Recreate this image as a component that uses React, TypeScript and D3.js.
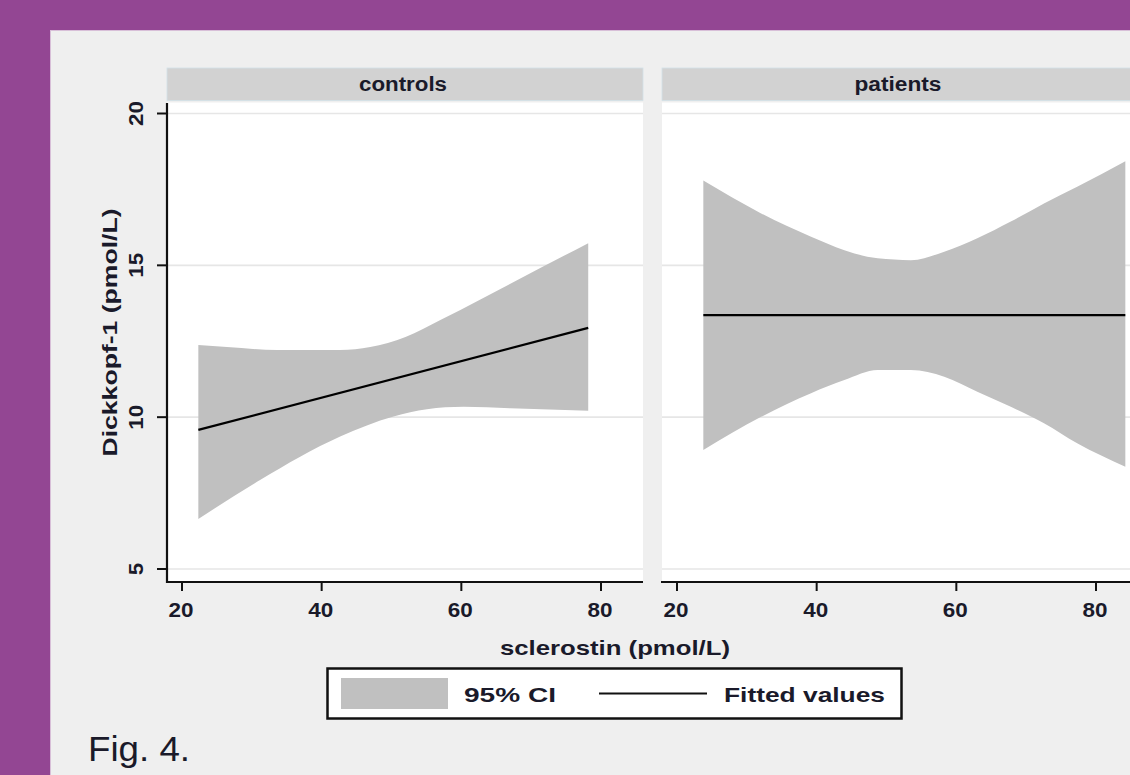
import React from 'react';
import * as d3 from 'd3';

const panels = ["controls", "patients"];
const xTicks = [20, 40, 60, 80];
const yTicks = [5, 10, 15, 20];
const legendLabels = ["95% CI", "Fitted values"];

// controls: CI band edges and fitted line
const controlsUpperX = [22.34, 26.45, 33.6, 42.65, 46.95, 52.0, 57.0, 59.86, 65.6, 71.3, 78.17];
const controlsUpper = [12.38, 12.31, 12.21, 12.21, 12.31, 12.64, 13.2, 13.53, 14.22, 14.91, 15.73];
const controlsLowerX = [22.34, 31.18, 36.92, 42.65, 50.3, 55.08, 60.33, 67.03, 78.17];
const controlsLower = [6.65, 7.93, 8.7, 9.36, 10.02, 10.26, 10.34, 10.29, 10.21];
const controlsFitX = [22.34, 78.17];
const controlsFit = [9.58, 12.94];

// patients
const patientsUpperX = [23.77, 32.05, 39.2, 43.97, 48.74, 53.5, 58.27, 63.0, 67.8, 72.55, 77.3, 84.2];
const patientsUpper = [17.79, 16.71, 15.94, 15.5, 15.23, 15.17, 15.45, 15.89, 16.44, 17.04, 17.59, 18.43];
const patientsLowerX = [23.77, 32.05, 39.2, 43.97, 48.74, 53.5, 58.27, 63.0, 67.8, 72.55, 77.3, 84.2];
const patientsLower = [8.92, 10.01, 10.79, 11.22, 11.55, 11.55, 11.33, 10.84, 10.34, 9.8, 9.14, 8.37];
const patientsFitX = [23.77, 84.2];
const patientsFit = [13.36, 13.36];

const series = [
  { upX: controlsUpperX, up: controlsUpper, loX: controlsLowerX, lo: controlsLower, fitX: controlsFitX, fit: controlsFit },
  { upX: patientsUpperX, up: patientsUpper, loX: patientsLowerX, lo: patientsLower, fitX: patientsFitX, fit: patientsFit },
];

const FONT = "'Liberation Sans', Arial, sans-serif";
const INK = "#1a1a2a";

const App = () => {
  const panelLeft = [167, 662];
  const panelW = 476;
  const plotTop = 102.5;
  const axisY = 582;

  const y = d3.scaleLinear().domain([5, 20]).range([569, 113.5]);
  const smooth = d3.line<[number, number]>().curve(d3.curveMonotoneX);
  const straight = d3.line<[number, number]>();

  return (
    <svg width={1130} height={775} style={{ position: 'absolute', left: 0, top: 0 }}>
      <rect x={0} y={0} width={1130} height={775} fill="#934693" />
      <rect x={50.5} y={30.5} width={1200} height={800} fill="#efefef" stroke="#d8bfd8" strokeWidth={1} />

      {panels.map((name, i) => {
        const left = panelLeft[i];
        const x = d3.scaleLinear().domain([20, 80]).range([left + 15, left + 434]);
        const s = series[i];
        const upPts: [number, number][] = s.upX.map((v, j) => [x(v), y(s.up[j])]);
        const loPts = s.loX.map((v, j) => [x(v), y(s.lo[j])] as [number, number]).reverse();
        const upPath = smooth(upPts) || '';
        const loPath = (smooth(loPts) || '').replace(/^M/, 'L');
        const band = upPath + loPath + 'Z';
        const fitPts: [number, number][] = s.fitX.map((v, j) => [x(v), y(s.fit[j])]);
        return (
          <g key={name}>
            <rect x={left} y={68} width={panelW} height={32.5} fill="#d2d2d2" stroke="#d3e2e8" strokeWidth={0.8} />
            <text x={left + 236} y={91} textAnchor="middle" fontFamily={FONT} fontSize={20} fontWeight="bold" fill={INK}
              textLength={i === 0 ? 88 : 87} lengthAdjust="spacingAndGlyphs">{name}</text>
            <rect x={left} y={plotTop} width={panelW} height={axisY - plotTop} fill="#ffffff" />
            {yTicks.map(t => (
              <line key={t} x1={left} x2={left + panelW} y1={y(t)} y2={y(t)} stroke="#e6e6e6" strokeWidth={1.6} />
            ))}
            <path d={band} fill="#c0c0c0" />
            <path d={straight(fitPts) || ''} fill="none" stroke="#000" strokeWidth={2.2} />
            <line x1={left - 1} x2={left + panelW} y1={axisY} y2={axisY} stroke="#111" strokeWidth={2.2} />
            {xTicks.map(t => (
              <g key={t}>
                <line x1={x(t)} x2={x(t)} y1={axisY} y2={axisY + 9} stroke="#111" strokeWidth={2} />
                <text x={x(t) - 1} y={617} textAnchor="middle" fontFamily={FONT} fontSize={20} fontWeight="bold" fill={INK}
                  textLength={25} lengthAdjust="spacingAndGlyphs">{t}</text>
              </g>
            ))}
          </g>
        );
      })}

      {/* y axis on the first panel */}
      <line x1={167} x2={167} y1={103} y2={axisY + 1} stroke="#111" strokeWidth={2.2} />
      {yTicks.map(t => (
        <g key={t}>
          <line x1={157} x2={167} y1={y(t)} y2={y(t)} stroke="#111" strokeWidth={2} />
          <text transform={`translate(143,${y(t)}) rotate(-90)`} textAnchor="middle" fontFamily={FONT}
            fontSize={20} fontWeight="bold" fill={INK} textLength={t < 10 ? 12.5 : 25} lengthAdjust="spacingAndGlyphs">{t}</text>
        </g>
      ))}
      <text transform="translate(117,332.5) rotate(-90)" textAnchor="middle" fontFamily={FONT} fontSize={21}
        fontWeight="bold" fill={INK} textLength={248} lengthAdjust="spacingAndGlyphs">Dickkopf-1 (pmol/L)</text>

      <text x={615} y={655} textAnchor="middle" fontFamily={FONT} fontSize={21} fontWeight="bold" fill={INK}
        textLength={230} lengthAdjust="spacingAndGlyphs">sclerostin (pmol/L)</text>

      {/* legend */}
      <rect x={327.5} y={668.5} width={574} height={50} fill="#ffffff" stroke="#111" strokeWidth={2.5} />
      <rect x={341} y={678} width={107} height={31} fill="#c0c0c0" />
      <text x={464} y={702} fontFamily={FONT} fontSize={21} fontWeight="bold" fill={INK} textLength={92}
        lengthAdjust="spacingAndGlyphs">{legendLabels[0]}</text>
      <line x1={599} x2={707} y1={693.5} y2={693.5} stroke="#111" strokeWidth={2.2} />
      <text x={724} y={702} fontFamily={FONT} fontSize={21} fontWeight="bold" fill={INK} textLength={161}
        lengthAdjust="spacingAndGlyphs">{legendLabels[1]}</text>

      <text x={88} y={761} fontFamily={FONT} fontSize={35} fill={INK} textLength={102}
        lengthAdjust="spacingAndGlyphs">Fig. 4.</text>
    </svg>
  );
};

export default App;
